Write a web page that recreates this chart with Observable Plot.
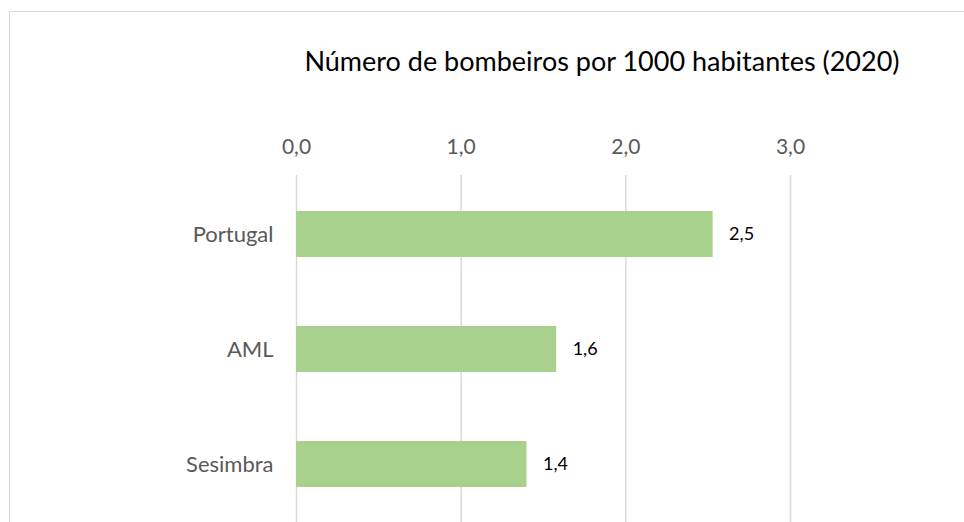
<!DOCTYPE html>
<html>
<head>
<meta charset="utf-8">
<script src="https://cdn.jsdelivr.net/npm/d3@7"></script>
<script src="https://cdn.jsdelivr.net/npm/@observablehq/plot@0.6"></script>
<style>
  html, body { margin: 0; padding: 0; background: #fff; }
  #wrap { position: relative; width: 964px; height: 522px; overflow: hidden; font-family: Lato, "Open Sans", sans-serif; }
  #frame { position: absolute; left: 9px; top: 11px; width: 1200px; height: 1200px; border: 1px solid #d9d9d9; box-sizing: border-box; }
  #title { position: absolute; left: 0; top: 47px; width: 1204px; text-align: center; font-size: 27px; line-height: 1; color: #000; white-space: nowrap; }
  #chart { position: absolute; left: 0; top: 0; }
</style>
</head>
<body>
<div id="wrap">
  <div id="frame"></div>
  <div id="title">Número de bombeiros por 1000 habitantes (2020)</div>
  <div id="chart"></div>
</div>
<script>
const categories = ["Portugal", "AML", "Sesimbra"];
const values = [2.53, 1.58, 1.40];
const valueLabels = ["2,5", "1,6", "1,4"];
const ticks = [0, 1, 2, 3];

const data = categories.map((c, i) => ({category: c, value: values[i], label: valueLabels[i]}));
const fmt = d => d.toFixed(1).replace(".", ",");

const plot = Plot.plot({
  width: 964,
  height: 522,
  marginTop: 175,
  marginBottom: 0,
  marginLeft: 296,
  marginRight: 174,
  style: {fontFamily: "Lato, 'Open Sans', sans-serif", background: "transparent", overflow: "visible"},
  x: {domain: [0, 3]},
  y: {domain: categories, paddingInner: 0.6, paddingOuter: 0.3},
  marks: [
    Plot.ruleX(ticks, {stroke: "#d9d9d9", strokeWidth: 1.5, strokeOpacity: 1}),
    Plot.barX(data, {x: "value", y: "category", fill: "#a9d18e"}),
    Plot.text(data, {x: "value", y: "category", text: "label", textAnchor: "start", dx: 16, fontSize: 18, fill: "#000"}),
    Plot.axisX(ticks, {anchor: "top", tickSize: 0, tickPadding: 22, tickFormat: fmt, fontSize: 21, fill: "#595959", label: null}),
    Plot.axisY({tickSize: 0, tickPadding: 23, fontSize: 22, fill: "#595959", label: null})
  ]
});
document.getElementById("chart").appendChild(plot);
</script>
</body>
</html>
